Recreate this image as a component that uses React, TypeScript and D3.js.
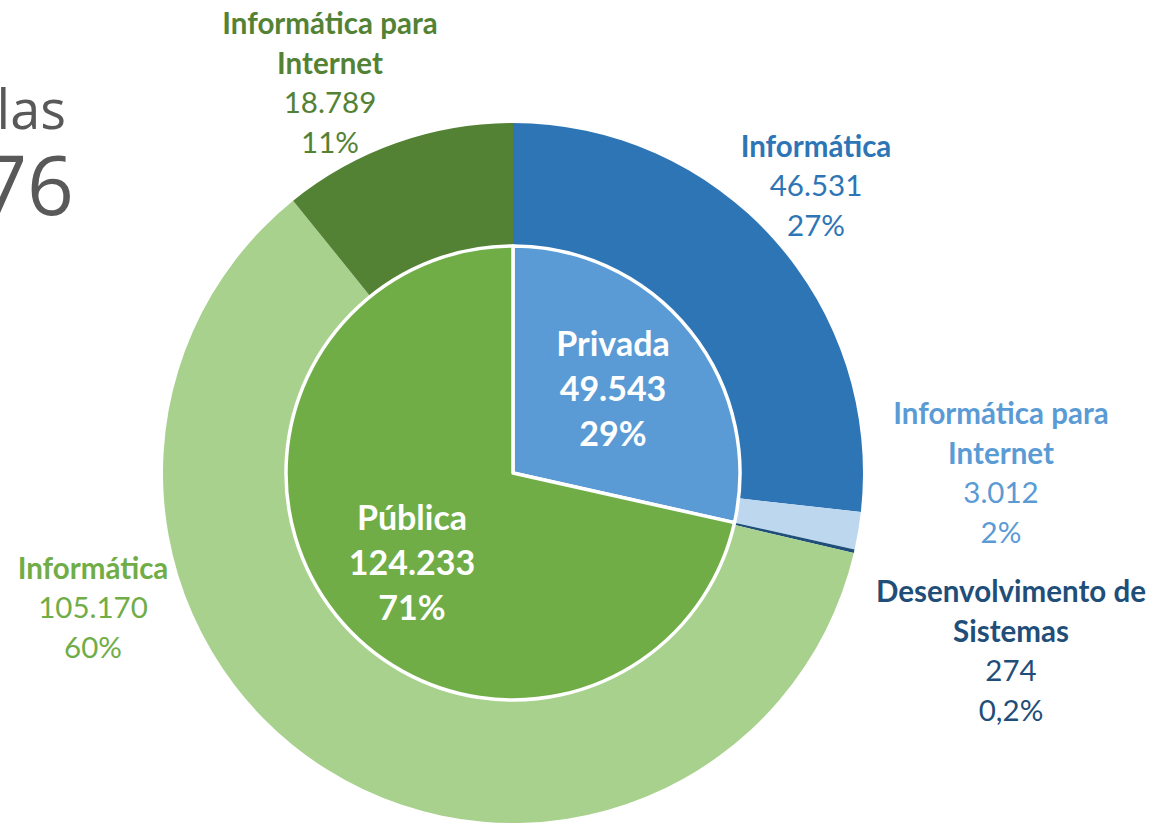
import * as d3 from "d3"

const totalTitle = "Matrículas"
const totalValue = 173776

const groups = ["Privada", "Pública"]
const groupValues = [49543, 124233]
const groupPercents = ["29%", "71%"]

const courses = ["Informática", "Informática para Internet", "Desenvolvimento de Sistemas", "Informática", "Informática para Internet"]
const courseGroups = ["Privada", "Privada", "Privada", "Pública", "Pública"]
const courseValues = [46531, 3012, 274, 105170, 18789]
const coursePercents = ["27%", "2%", "0,2%", "60%", "11%"]

// layout / style (kept apart from the data)
const W = 1155
const H = 823
const cx = 513
const cy = 473
const rInner = 227
const rOuter = 350

const groupColors = ["#5B9BD5", "#70AD47"]
const courseColors = ["#2E75B6", "#BDD7EE", "#1F4E79", "#A9D18E", "#548235"]
const courseTextColors = ["#2E75B6", "#5B9BD5", "#1F4E79", "#70AD47", "#548235"]
// label anchor (centre x, first line y) per course
const courseLabelPos = [
  [816, 149],
  [1001, 416],
  [1011, 594],
  [93, 571],
  [330, 26],
]
const groupLabelPos = [
  [613, 347],
  [412, 521],
]

const FONT = "Lato, 'Open Sans', sans-serif"

const br = d3.formatLocale({ decimal: ",", thousands: ".", grouping: [3], currency: ["R$", ""] })
const fmt = br.format(",")

function wrap(name: string): string[] {
  if (name === "Informática para Internet") return ["Informática para", "Internet"]
  if (name === "Desenvolvimento de Sistemas") return ["Desenvolvimento de", "Sistemas"]
  return [name]
}

export default function App() {
  const pie = d3.pie<number>().sort(null).value((d) => d)
  const inner = pie(groupValues)
  const outer = pie(courseValues)

  const innerArc = d3.arc<d3.PieArcDatum<number>>().innerRadius(0).outerRadius(rInner)
  const outerArc = d3.arc<d3.PieArcDatum<number>>().innerRadius(rInner).outerRadius(rOuter)

  return (
    <div style={{ position: "absolute", left: 0, top: 0 }}>
      <svg width={W} height={H} style={{ display: "block", fontFamily: FONT }}>
        <rect width={W} height={H} fill="#fff" />
        {/* total title, partly outside the frame as in the original slide */}
        <text x={66} y={129} textAnchor="end" fontSize={54} fill="#595959" fontFamily="'Open Sans', sans-serif">
          {totalTitle}
        </text>
        <text x={74} y={215} textAnchor="end" fontSize={82} fill="#595959" fontFamily="'Open Sans', sans-serif">
          {fmt(totalValue)}
        </text>

        <g transform={`translate(${cx},${cy})`}>
          {outer.map((d, i) => (
            <path key={"o" + i} d={outerArc(d) || ""} fill={courseColors[i]} data-group={courseGroups[i]} />
          ))}
          {inner.map((d, i) => (
            <path key={"i" + i} d={innerArc(d) || ""} fill={groupColors[i]} stroke="#fff" strokeWidth={3.5} strokeLinejoin="round" />
          ))}
        </g>

        {groups.map((g, i) => {
          const [x, y] = groupLabelPos[i]
          const lines = [g, fmt(groupValues[i]), groupPercents[i]]
          return (
            <text key={"gl" + i} x={x} y={y} textAnchor="middle" fill="#fff" fontWeight={700} fontSize={34}>
              {lines.map((l, j) => (
                <tspan key={j} x={x} y={y + j * 45} dominantBaseline="middle">
                  {l}
                </tspan>
              ))}
            </text>
          )
        })}

        {courses.map((c, i) => {
          const [x, y] = courseLabelPos[i]
          const name = wrap(c)
          const lines = [...name.map((t) => ({ t, b: true })), { t: fmt(courseValues[i]), b: false }, { t: coursePercents[i], b: false }]
          return (
            <text key={"cl" + i} textAnchor="middle" fill={courseTextColors[i]} fontSize={29.5}>
              {lines.map((l, j) => (
                <tspan key={j} x={x} y={y + j * 40} fontWeight={l.b ? 700 : 400} dominantBaseline="middle">
                  {l.t}
                </tspan>
              ))}
            </text>
          )
        })}
      </svg>
    </div>
  )
}
